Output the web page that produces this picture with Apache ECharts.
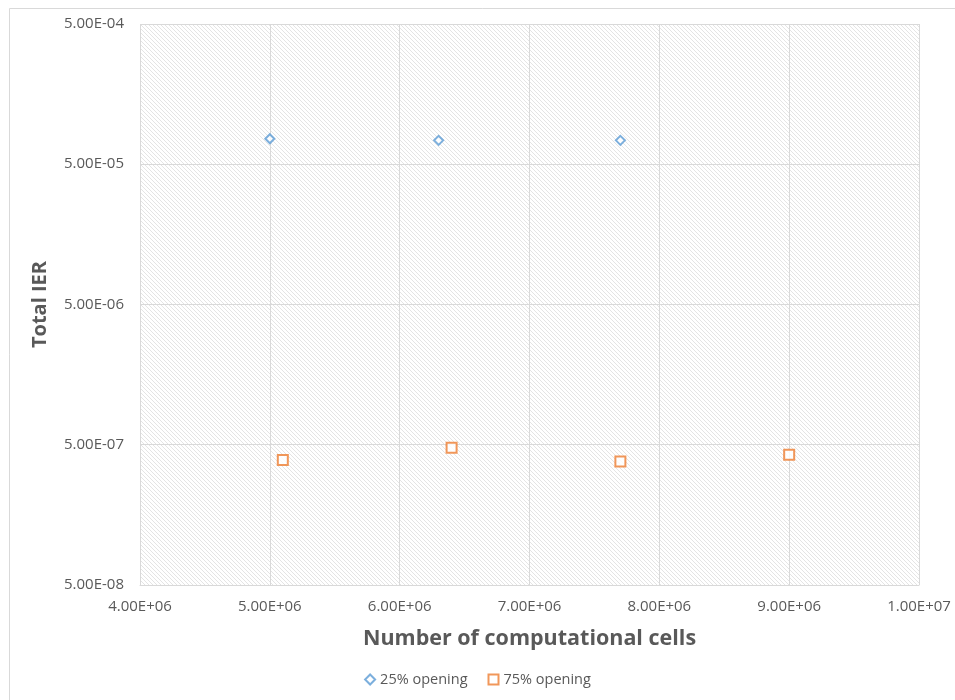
<!DOCTYPE html>
<html>
<head>
<meta charset="utf-8">
<script src="https://cdn.jsdelivr.net/npm/echarts@6/dist/echarts.min.js"></script>
<style>
  html, body { margin: 0; padding: 0; background: #ffffff; }
  #chart { width: 955px; height: 700px; }
</style>
</head>
<body>
<div id="chart"></div>
<script>
// Mesh-independence study: total IER vs. number of cells
const seriesNames = ['25% opening', '75% opening'];
const cells25 = [5.0e6, 6.3e6, 7.7e6];
const ier25 = [7.6e-5, 7.4e-5, 7.4e-5];
const cells75 = [5.1e6, 6.4e6, 7.7e6, 9.0e6];
const ier75 = [3.9e-7, 4.75e-7, 3.8e-7, 4.25e-7];

const xMin = 4e6, xMax = 1e7, xStep = 1e6;
const yMin = 5e-8, yMax = 5e-4;

const FONT = '"Open Sans", "Noto Sans", sans-serif';
const GREY = '#595959';
const TICK_FONT = 15;

// diagonal hatch used as the plot-area fill
function hatchPattern() {
  const c = document.createElement('canvas');
  c.width = 4; c.height = 4;
  const g = c.getContext('2d');
  g.fillStyle = '#ffffff';
  g.fillRect(0, 0, 4, 4);
  g.strokeStyle = '#e4e4e4';
  g.lineWidth = 1;
  g.beginPath();
  g.moveTo(-1, -1); g.lineTo(5, 5);
  g.moveTo(-1, 3); g.lineTo(1, 5);
  g.moveTo(3, -1); g.lineTo(5, 1);
  g.stroke();
  return { image: c, repeat: 'repeat' };
}

// Excel-style scientific label, e.g. 5.00E-05
function sci(v) {
  const clean = Number(Number(v).toPrecision(2));
  const s = clean.toExponential(2).toUpperCase();
  const m = s.match(/^(-?[\d.]+)E([+-])(\d+)$/);
  return '{t|' + m[1] + 'E' + m[2] + m[3].padStart(2, '0') + '}';
}

const tickLabel = {
  color: GREY,
  fontSize: TICK_FONT,
  fontFamily: FONT,
  formatter: sci,
  rich: { t: { fontSize: TICK_FONT, fontFamily: FONT, color: GREY } }
};

const chart = echarts.init(document.getElementById('chart'), null, { renderer: 'canvas' });

chart.setOption({
  backgroundColor: '#ffffff',
  animation: false,
  textStyle: { fontFamily: FONT },
  graphic: [{
    type: 'rect',
    left: 7, top: 6,
    shape: { width: 960, height: 710 },
    style: { fill: 'none', stroke: '#d9d9d9', lineWidth: 1 },
    silent: true, z: -10
  }],
  grid: {
    left: 140, right: 36, top: 24, bottom: 115,
    show: true,
    backgroundColor: hatchPattern(),
    borderWidth: 0
  },
  legend: {
    bottom: 8,
    left: 'center',
    itemWidth: 10, itemHeight: 10, itemGap: 20,
    textStyle: { color: GREY, fontSize: 14.5, fontFamily: FONT },
    data: seriesNames
  },
  xAxis: {
    type: 'value',
    min: xMin, max: xMax, interval: xStep,
    name: 'Number of computational cells',
    nameLocation: 'middle',
    nameGap: 43,
    nameTextStyle: { color: GREY, fontSize: 21.5, fontWeight: 'bold', fontFamily: FONT },
    axisLine: { show: true, lineStyle: { color: '#d9d9d9' } },
    axisTick: { show: false },
    axisLabel: Object.assign({ margin: 14 }, tickLabel),
    splitLine: { show: true, lineStyle: { color: '#d9d9d9' } }
  },
  yAxis: {
    type: 'log',
    logBase: 10,
    min: yMin, max: yMax, interval: 1,
    name: 'Total IER',
    nameLocation: 'middle',
    nameGap: 90,
    nameTextStyle: { color: GREY, fontSize: 20, fontWeight: 'bold', fontFamily: FONT },
    axisLine: { show: false },
    axisTick: { show: false },
    axisLabel: Object.assign({ margin: 16 }, tickLabel),
    splitLine: { show: true, lineStyle: { color: '#d9d9d9' } }
  },
  series: [
    {
      name: seriesNames[0],
      type: 'scatter',
      symbol: 'diamond',
      symbolSize: 9,
      itemStyle: { color: '#ffffff', borderColor: '#5b9bd5', borderWidth: 2 },
      data: cells25.map((x, i) => [x, ier25[i]])
    },
    {
      name: seriesNames[1],
      type: 'scatter',
      symbol: 'rect',
      symbolSize: 10,
      itemStyle: { color: '#ffffff', borderColor: '#ed7d31', borderWidth: 2 },
      data: cells75.map((x, i) => [x, ier75[i]])
    }
  ]
});
</script>
</body>
</html>
